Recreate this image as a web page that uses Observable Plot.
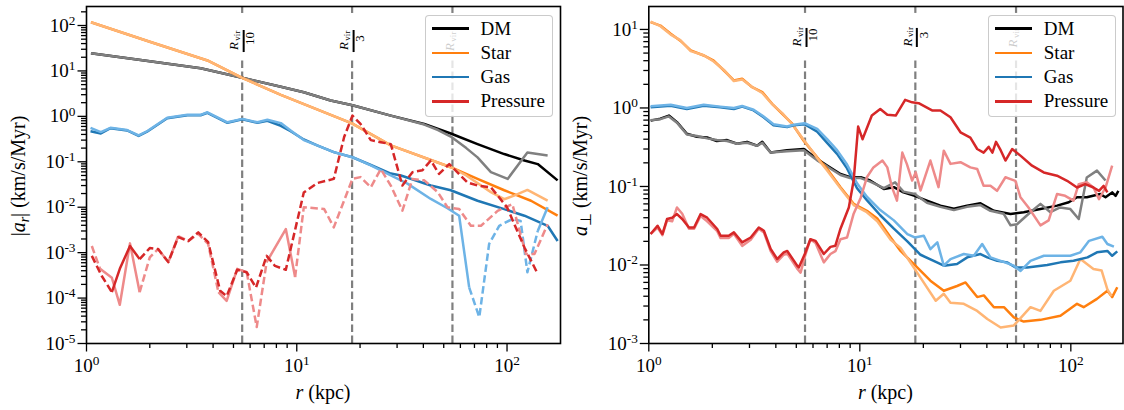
<!DOCTYPE html>
<html><head><meta charset="utf-8">
<script src="https://cdn.jsdelivr.net/npm/d3@7"></script>
<script src="https://cdn.jsdelivr.net/npm/@observablehq/plot@0.6"></script>
<style>
body{margin:0;background:#fff;}
#wrap{position:relative;width:1124px;height:410px;overflow:hidden;background:#fff;}
.panel{position:absolute;top:0;}
.legend{position:absolute;top:15px;width:127.5px;height:102px;box-sizing:border-box;border:1.3px solid rgba(200,200,200,0.95);border-radius:4px;background:rgba(255,255,255,0.8);z-index:5;}
.legend .sw{position:absolute;left:5.5px;width:37.6px;height:2.6px;}
.legend .lb{position:absolute;left:54.5px;height:20px;line-height:20px;font-size:19px;color:#000;white-space:nowrap;}
</style></head><body><div id="wrap" style="font-family:'Liberation Serif'"></div>
<script>
// ---------- data (radius r in kpc, acceleration in km/s/Myr; negative = dashed segment) ----------
const series = ["DM", "Star", "Gas", "Pressure"];
const darkColors = ["#000000", "#ff7f0e", "#1f77b4", "#d62728"];
const lightColors = ["#808080", "#ffb574", "#6db3e6", "#ee8a8a"];
const rvirLines = [5.5, 18.33, 55];
const rvirLabels = ["10", "3", ""];
const xTicks = [1, 10, 100];
const leftYTicks = [1e-5, 1e-4, 1e-3, 1e-2, 1e-1, 1, 10, 100];
const rightYTicks = [1e-3, 1e-2, 1e-1, 1, 10];
const FONT = "'Liberation Serif'";

// left panel |a_r|
const L_dm_dark = [[1.05,24.5],[1.81,17.5],[3.49,11.5],[5.5,7.05],[8.4,4.5],[10.8,3.39],[14.5,2.23],[18.4,1.75],[28,1.04],[40.4,0.68],[54,0.42],[72.4,0.245],[97,0.148],[121,0.107],[140,0.089],[174,0.039]];
const L_dm_light = [[1.05,24.5],[1.81,17.5],[3.49,11.5],[5.5,7.05],[8.4,4.5],[10.8,3.39],[14.5,2.23],[18.4,1.75],[28,1.04],[40.4,0.66],[47,0.5],[54,0.36],[64,0.2],[72.4,0.125],[83.8,0.059],[100.7,0.042],[125,0.16],[156,0.138]];
const L_star_dark = [[1.05,118],[2,44],[3.76,17],[5.5,7.05],[8.4,2.98],[18.3,0.7],[28,0.23],[54,0.076],[72.4,0.042],[97,0.0236],[130,0.0139],[174,0.0065]];
const L_star_light = [[1.05,118],[2,44],[3.76,17],[5.5,7.05],[8.4,2.98],[18.3,0.7],[28,0.23],[54,0.076],[64,0.05],[83.8,0.0215],[97,0.015],[108,0.018],[125,0.024],[156,0.0139]];
const L_gas_dark = [[1.045,0.47],[1.17,0.42],[1.30,0.55],[1.56,0.49],[1.77,0.37],[1.94,0.46],[2.42,0.91],[3.02,1.06],[3.49,1.06],[3.76,1.2],[4.68,0.72],[5.51,0.86],[6.5,0.72],[7.25,0.8],[8.4,0.62],[9.35,0.47],[10.8,0.31],[12.5,0.23],[15,0.163],[18.4,0.126],[22.5,0.085],[28,0.055],[31.3,0.05],[43.4,0.030],[54,0.0236],[72.4,0.0139],[97,0.0091],[121,0.0065],[156,0.0039],[174,0.0018]];
const L_gas_light = [[1.045,0.56],[1.17,0.45],[1.30,0.56],[1.56,0.50],[1.77,0.38],[1.94,0.47],[2.42,0.93],[3.02,1.08],[3.49,1.08],[3.76,1.23],[4.68,0.74],[5.51,0.88],[6.5,0.74],[7.25,0.84],[8.4,0.71],[9.35,0.49],[10.8,0.30],[12.5,0.23],[15,0.163],[18.4,0.126],[22.5,0.083],[28,0.050],[33.6,0.033],[43.4,0.0152],[52.1,0.0095],[59.2,0.0065],[66.1,-1.7e-4],[73.8,-3.8e-5],[82.2,-1.55e-3],[91.8,-3.9e-3],[106,-5.5e-3],[116,-5.0e-3],[125,-3.7e-4],[140,3.0e-3],[156,0.010]];
const L_p_dark = [[1.06,-8.5e-4],[1.18,-3.1e-4],[1.32,1.35e-4],[1.44,4.4e-4],[1.61,1.4e-3],[1.79,-7.2e-4],[2.0,-1.26e-3],[2.19,-1.2e-3],[2.45,-6.2e-4],[2.73,-2.2e-3],[3.05,-1.8e-3],[3.4,-2.8e-3],[3.79,-1.7e-3],[4.32,-1.45e-4],[4.64,-1.1e-4],[5.21,-4.2e-4],[5.78,-3.7e-4],[6.4,-1.7e-4],[7.19,-8.5e-4],[7.88,-5.1e-4],[8.87,-4.2e-4],[9.35,-1.2e-3],[10.8,-0.021],[12.5,-0.034],[15.0,-0.042],[16.8,-0.35],[18.4,-1.04],[20.1,-0.68],[22.5,-0.30],[25.1,-0.27],[28.0,-0.245],[31.8,-0.030],[35.5,-0.059],[39.6,-0.065],[43.4,-0.107],[47.5,-0.054],[53.1,-0.089],[64.9,-0.035],[72.4,-0.030],[83.8,-0.0275],[100,-0.010],[121,-1.3e-3],[140,-3.4e-4]];
const L_p_light = [[1.06,-1.4e-3],[1.16,4.4e-4],[1.32,2.8e-4],[1.44,7.1e-5],[1.61,1.6e-3],[1.79,-1.35e-4],[2.0,-7.9e-4],[2.19,1.2e-3],[2.45,6.2e-4],[2.73,-2.3e-3],[3.05,-1.8e-3],[3.4,-2.6e-3],[3.79,-1.55e-3],[4.24,1.35e-4],[4.64,8.7e-5],[5.21,4.4e-4],[5.78,-3.7e-4],[6.45,-2.3e-5],[7.19,6.2e-4],[8.87,3.3e-3],[9.82,-2.9e-4],[10.8,-0.010],[13.5,-9.1e-3],[15,-3.6e-3],[18.4,-0.042],[20.1,-0.046],[22.5,-0.0275],[25.1,-0.069],[28,-0.030],[31.8,-8.4e-3],[35.5,-0.042],[40.4,-0.039],[46.8,-0.0215],[52.1,-0.010],[59.2,-9.1e-3],[67.3,-3.9e-3],[75.2,-3.9e-3],[90.2,-8.3e-3],[106,-0.0117],[123,-9.3e-4],[135,-9.3e-4],[156,-4.2e-3]];

// right panel a_perp
const R_dm_dark = [[1.02,0.69],[1.135,0.73],[1.245,0.80],[1.36,0.66],[1.515,0.47],[1.69,0.43],[1.89,0.42],[2.1,0.38],[2.35,0.39],[2.62,0.35],[2.92,0.37],[3.26,0.33],[3.45,0.37],[3.78,0.27],[4.52,0.29],[5.43,0.30],[6.28,0.224],[7.0,0.185],[8.1,0.144],[9.0,0.131],[10.1,0.131],[11.2,0.119],[13.0,0.093],[14.5,0.098],[16.1,0.084],[18.2,0.076],[20.8,0.066],[24.1,0.057],[27.9,0.052],[32.2,0.057],[37.3,0.061],[43.2,0.049],[51.8,0.0445],[59.8,0.047],[71.8,0.0515],[86.1,0.057],[97.8,0.063],[107,0.073],[119,0.073],[138,0.080],[146,0.073],[157,0.084],[163,0.076],[168,0.088]];
const R_dm_light = [[1.02,0.70],[1.135,0.72],[1.245,0.78],[1.36,0.65],[1.515,0.46],[1.69,0.44],[1.89,0.41],[2.1,0.39],[2.35,0.38],[2.62,0.35],[2.92,0.36],[3.26,0.33],[3.45,0.36],[3.78,0.27],[4.52,0.28],[5.43,0.29],[6.28,0.215],[7.0,0.18],[8.1,0.14],[9.0,0.128],[10.1,0.128],[11.2,0.115],[13.0,0.095],[14.7,0.113],[16.1,0.086],[18.2,0.08],[20.8,0.062],[24.1,0.055],[27.9,0.050],[32.2,0.055],[37.3,0.058],[41.6,0.049],[48,0.045],[51.8,0.032],[55.6,0.033],[64.3,0.047],[71.8,0.060],[80,0.047],[89,0.054],[99.5,0.0515],[109,0.0385],[119,0.13],[133,0.159],[146,0.119]];
const R_star_dark = [[1.02,12.4],[1.135,11.2],[1.27,8.8],[1.41,7.2],[1.58,5.4],[1.82,4.66],[2.03,4.0],[2.27,3.0],[2.53,2.24],[2.77,2.35],[3.09,1.84],[3.45,1.59],[3.84,1.13],[4.29,0.84],[4.78,0.63],[5.43,0.38],[6.28,0.235],[7.0,0.167],[8.1,0.098],[9.35,0.060],[10.8,0.049],[12.1,0.039],[14.0,0.0224],[15.6,0.0151],[18.0,0.0103],[21.6,6.3e-3],[25.0,4.7e-3],[28.9,5.4e-3],[31.7,6.0e-3],[36.0,3.9e-3],[38.7,4.1e-3],[43.2,2.9e-3],[48.2,2.9e-3],[53.7,2.15e-3],[59.8,1.9e-3],[71.8,2.0e-3],[89.3,2.25e-3],[107,3.2e-3],[115,2.9e-3],[133,3.7e-3],[149,4.7e-3],[157,3.9e-3],[166,5.2e-3]];
const R_star_light = [[1.02,12.6],[1.135,11.0],[1.27,8.6],[1.41,7.3],[1.58,5.3],[1.82,4.7],[2.03,3.9],[2.27,3.05],[2.53,2.2],[2.77,2.3],[3.09,1.85],[3.45,1.55],[3.84,1.12],[4.29,0.86],[4.78,0.62],[5.43,0.39],[6.28,0.23],[7.0,0.16],[8.1,0.095],[9.35,0.058],[10.8,0.047],[12.1,0.036],[14.0,0.021],[15.6,0.0165],[18.7,8.0e-3],[22.9,3.5e-3],[25.0,4.3e-3],[26.9,3.3e-3],[31.1,3.2e-3],[36.0,2.6e-3],[40.2,2.05e-3],[46.5,1.6e-3],[53.7,1.7e-3],[64.4,2.9e-3],[71.8,2.6e-3],[83.1,4.7e-3],[99.5,6.3e-3],[111,0.0119],[128,8.9e-3],[140,8.5e-3],[149,4.9e-3],[156,4.0e-3]];
const R_gas_dark = [[1.02,1.02],[1.27,1.07],[1.515,0.97],[1.82,1.07],[2.18,1.02],[2.53,0.97],[2.77,1.04],[3.14,0.93],[3.5,0.76],[3.9,0.60],[4.52,0.57],[4.86,0.60],[5.47,0.62],[6.28,0.50],[7.0,0.36],[7.8,0.26],[8.7,0.17],[9.7,0.095],[10.8,0.067],[12.5,0.043],[14.5,0.029],[16.8,0.020],[19.4,0.0135],[23.2,0.0108],[25.0,9.8e-3],[28.9,0.0103],[32.3,0.0125],[37.3,0.0138],[40.2,0.0125],[44.8,0.0113],[49.9,0.0108],[54.7,9.3e-3],[62.1,9.3e-3],[77.3,0.0100],[89.3,0.0108],[103,0.0113],[120,0.0125],[133,0.0145],[149,0.0151],[157,0.0131],[166,0.0149]];
const R_gas_light = [[1.02,1.05],[1.27,1.1],[1.515,1.0],[1.82,1.1],[2.18,1.04],[2.53,1.0],[2.77,1.06],[3.14,0.95],[3.5,0.78],[3.9,0.62],[4.52,0.58],[4.86,0.61],[5.47,0.64],[6.28,0.54],[7.0,0.40],[7.8,0.29],[8.7,0.19],[9.7,0.11],[10.8,0.074],[12.5,0.05],[14.5,0.037],[16.8,0.0248],[18.2,0.0224],[20.1,0.0236],[21.6,0.0159],[23.3,0.0194],[25.0,9.8e-3],[26.9,0.0119],[31.1,0.0138],[34.7,0.0131],[38.0,0.0185],[41.6,0.0125],[46.5,0.0113],[53.7,9.8e-3],[57.8,8.4e-3],[64.4,0.0113],[74.5,0.0131],[86.1,0.0131],[99.5,0.0131],[111,0.0145],[122,0.0203],[141,0.0229],[149,0.0185],[160,0.0171]];
const R_p_dark = [[1.02,0.0248],[1.10,0.0316],[1.16,0.0248],[1.22,0.0385],[1.29,0.040],[1.36,0.0445],[1.44,0.0385],[1.55,0.030],[1.64,0.030],[1.76,0.0445],[1.89,0.040],[2.11,0.0287],[2.19,0.0236],[2.39,0.0236],[2.53,0.026],[2.77,0.0194],[3.04,0.0224],[3.32,0.030],[3.51,0.0273],[3.78,0.016],[4.06,0.0119],[4.36,0.0145],[4.53,0.0151],[5.05,9.8e-3],[5.14,9.3e-3],[5.5,0.014],[5.83,0.0213],[6.17,0.0203],[6.75,0.0138],[7.26,0.017],[7.66,0.0176],[8.1,0.029],[8.87,0.054],[9.35,0.119],[9.82,0.58],[10.3,0.40],[11.4,0.80],[12.5,0.97],[13.5,0.82],[14.8,0.80],[16.4,1.27],[17.7,1.18],[19.0,1.15],[22.0,0.93],[24.1,0.93],[26.9,0.76],[30.0,0.49],[33.4,0.42],[36.0,0.30],[38.6,0.27],[40.8,0.32],[42.5,0.27],[44.2,0.37],[46.5,0.29],[49,0.214],[52.7,0.30],[57.7,0.247],[65.5,0.184],[74.4,0.151],[86,0.137],[96,0.118],[107,0.097],[117,0.107],[128,0.097],[136,0.088],[143,0.102],[149,0.084]];
const R_p_light = [[1.02,0.0248],[1.10,0.030],[1.16,0.024],[1.22,0.037],[1.29,0.036],[1.36,0.054],[1.44,0.045],[1.55,0.029],[1.64,0.029],[1.76,0.042],[1.89,0.036],[2.11,0.027],[2.19,0.022],[2.39,0.022],[2.53,0.025],[2.77,0.0175],[3.04,0.021],[3.32,0.029],[3.51,0.026],[3.78,0.015],[4.06,0.011],[4.36,0.0135],[4.53,0.014],[5.05,9.0e-3],[5.24,8.0e-3],[5.5,0.013],[5.83,0.0213],[6.17,0.019],[6.75,0.0108],[7.26,0.0138],[7.66,0.015],[8.1,0.0213],[8.7,0.0224],[9.35,0.045],[10.1,0.072],[10.8,0.131],[11.6,0.175],[12.8,0.214],[13.5,0.175],[14.2,0.098],[15.0,0.066],[15.9,0.27],[16.7,0.194],[17.7,0.119],[18.4,0.151],[19.4,0.089],[21.6,0.214],[23.6,0.098],[25.0,0.286],[26.9,0.194],[30.0,0.204],[33.4,0.175],[36.0,0.167],[38.6,0.102],[41.6,0.102],[44.7,0.088],[49,0.131],[51.8,0.124],[54.6,0.118],[57.7,0.073],[63,0.054],[71.8,0.032],[78.5,0.037],[86,0.080],[94,0.076],[103,0.066],[109,0.107],[119,0.113],[128,0.097],[136,0.069],[146,0.097],[157,0.184]];

// ---------- helpers ----------
function toRows(pairs) {
  const out = []; let seg = 0; let cur = null;
  for (const [r, v] of pairs) {
    const s = v < 0 ? "neg" : "pos";
    if (cur !== null && s !== cur) { out.push({r, a: Math.abs(v), seg, style: cur}); seg++; }
    cur = s;
    out.push({r, a: Math.abs(v), seg, style: s});
  }
  return out;
}
function lineMarks(pairs, color) {
  const rows = toRows(pairs);
  const common = {x: "r", y: "a", z: "seg", stroke: color, strokeWidth: 2.5, strokeLinejoin: "round", strokeLinecap: "butt"};
  return [
    Plot.line(rows.filter(d => d.style === "pos"), common),
    Plot.line(rows.filter(d => d.style === "neg"), {...common, strokeDasharray: "7.5,3.5"})
  ];
}
function minorTicks(lo, hi) {
  const t = [];
  for (let e = Math.floor(Math.log10(lo)); e <= Math.ceil(Math.log10(hi)); e++)
    for (let k = 2; k <= 9; k++) { const v = k * Math.pow(10, e); if (v > lo && v < hi) t.push(v); }
  return t;
}
const fmt = d => "10^" + Math.round(Math.log10(d));

function buildPanel(cfg) {
  const [y0, y1] = cfg.ydom;
  const gray = "#7f7f7f";
  const marks = [];
  marks.push(Plot.ruleX(rvirLines, {x: d => d, y1: () => y0, y2: () => cfg.gap[0], stroke: gray, strokeWidth: 2.2, strokeDasharray: "7.5,3.5"}));
  marks.push(Plot.ruleX(rvirLines, {x: d => d, y1: () => cfg.gap[1], y2: () => y1, stroke: gray, strokeWidth: 2.2, strokeDasharray: "7.5,3.5"}));
  cfg.lines.forEach(([pairs, color]) => marks.push(...lineMarks(pairs, color)));
  const lab = rvirLines.map((v, i) => ({v, den: rvirLabels[i]}));
  const frac = lab.filter(d => d.den);
  const plain = lab.filter(d => !d.den);
  const tOpt = {x: "v", y: () => cfg.lc, rotate: -90, textAnchor: "middle", lineAnchor: "middle", fill: "black"};
  marks.push(Plot.text(frac, {...tOpt, text: () => "R", fontStyle: "italic", fontSize: 13, dx: -8, dy: 4.5}));
  marks.push(Plot.text(frac, {...tOpt, text: () => "vir", fontSize: 9, dx: -5, dy: -5.8}));
  marks.push(Plot.text(frac, {...tOpt, text: "den", fontSize: 13, dx: 8, dy: -3}));
  marks.push(Plot.ruleX(frac, {x: "v", y1: () => cfg.bar[0], y2: () => cfg.bar[1], dx: 1.5, stroke: "black", strokeWidth: 2}));
  marks.push(Plot.text(plain, {...tOpt, text: () => "R", fontStyle: "italic", fontSize: 13, dx: -3, dy: 5.5}));
  marks.push(Plot.text(plain, {...tOpt, text: () => "vir", fontSize: 9, dx: 0.5, dy: -4.8}));
  const xMinor = minorTicks(cfg.xdom[0], cfg.xdom[1]);
  const yMinor = minorTicks(y0, y1);
  const ax = {strokeWidth: 1.3, label: null};
  marks.push(Plot.axisX(xTicks, {...ax, tickSize: 8.5, tickPadding: 6, tickFormat: fmt, fontSize: 19}));
  marks.push(Plot.axisX(xMinor, {...ax, tickSize: 5, tickFormat: () => ""}));
  marks.push(Plot.axisY(cfg.yticks, {...ax, tickSize: 8.5, tickPadding: 2.5, tickFormat: fmt, fontSize: 19}));
  marks.push(Plot.axisY(yMinor, {...ax, tickSize: 5, tickFormat: () => ""}));
  marks.push(Plot.frame({stroke: "black", strokeWidth: 1.6}));

  const svg = Plot.plot({
    width: 562, height: 410,
    marginLeft: cfg.ml, marginRight: cfg.mr, marginTop: 6, marginBottom: 67,
    x: {type: "log", domain: cfg.xdom},
    y: {type: "log", domain: cfg.ydom},
    style: {fontSize: "19px", color: "black", background: "transparent", overflow: "visible"},
    marks
  });
  d3.select(svg).selectAll("text").each(function () {
    const m = /^10\^(-?\d+)$/.exec(this.textContent);
    if (!m) return;
    const s = d3.select(this);
    s.text(null);
    s.append("tspan").text("10");
    s.append("tspan").attr("font-size", "0.7em").attr("dy", "-0.52em").text(m[1]);
  });
  const g = d3.select(svg).append("g").attr("font-size", 20).attr("fill", "black");
  const yl = g.append("text").attr("text-anchor", "middle").attr("transform", `translate(25,176) rotate(-90)`);
  cfg.ylabel(yl);
  const plotCx = cfg.ml + (562 - cfg.ml - cfg.mr) / 2;
  const xl = g.append("text").attr("text-anchor", "middle").attr("x", plotCx).attr("y", 399);
  xl.append("tspan").attr("font-style", "italic").text("r");
  xl.append("tspan").text(" (kpc)");
  d3.select(svg).style("font-family", FONT);
  d3.select(svg).selectAll("g").attr("font-family", null);
  d3.select(svg).selectAll("text").attr("font-family", null).style("font-family", FONT);
  return svg;
}

function legend(left) {
  const box = document.createElement("div");
  box.className = "legend";
  box.style.left = left + "px";
  series.forEach((name, i) => {
    const cy = 14 + i * 24.2;
    const sw = document.createElement("div");
    sw.className = "sw"; sw.style.top = (cy - 1.3 - 1.3) + "px"; sw.style.background = darkColors[i];
    const lb = document.createElement("div");
    lb.className = "lb"; lb.style.top = (cy - 10 - 1.3) + "px"; lb.textContent = name;
    lb.style.fontFamily = FONT;
    box.appendChild(sw); box.appendChild(lb);
  });
  return box;
}

const wrap = document.getElementById("wrap");

const left = buildPanel({
  ml: 86, mr: 2, xdom: [1, 179.6], ydom: [1e-5, 262], yticks: leftYTicks,
  gap: [18.7, 184], bar: [25.4, 77.6], lc: 44.5,
  lines: [[L_dm_dark, darkColors[0]], [L_dm_light, lightColors[0]], [L_star_dark, darkColors[1]], [L_star_light, lightColors[1]],
          [L_gas_dark, darkColors[2]], [L_gas_light, lightColors[2]], [L_p_light, lightColors[3]], [L_p_dark, darkColors[3]]],
  ylabel: t => {
    t.append("tspan").text("|");
    t.append("tspan").attr("font-style", "italic").text("a");
    t.append("tspan").attr("font-style", "italic").attr("font-size", "0.7em").attr("dy", "4").text("r");
    t.append("tspan").attr("dy", "-4").text("|");
    t.append("tspan").text(" (km/s/Myr)");
  }
});
left.classList.add("panel"); left.style.left = "0px";
wrap.appendChild(left);

const right = buildPanel({
  ml: 86.3, mr: 1.5, xdom: [1, 176.7], ydom: [1e-3, 19.6], yticks: rightYTicks,
  gap: [4.27, 16], bar: [5.89, 10.3], lc: 7.8,
  lines: [[R_dm_dark, darkColors[0]], [R_dm_light, lightColors[0]], [R_star_dark, darkColors[1]], [R_star_light, lightColors[1]],
          [R_gas_dark, darkColors[2]], [R_gas_light, lightColors[2]], [R_p_light, lightColors[3]], [R_p_dark, darkColors[3]]],
  ylabel: t => {
    t.append("tspan").attr("font-style", "italic").text("a");
    t.append("tspan").attr("font-size", "0.75em").attr("dy", "4").text("⊥");
    t.append("tspan").attr("dy", "-4").text(" (km/s/Myr)");
  }
});
right.classList.add("panel"); right.style.left = "562px";
wrap.appendChild(right);

wrap.appendChild(legend(425));
wrap.appendChild(legend(988.3));
</script></body></html>
